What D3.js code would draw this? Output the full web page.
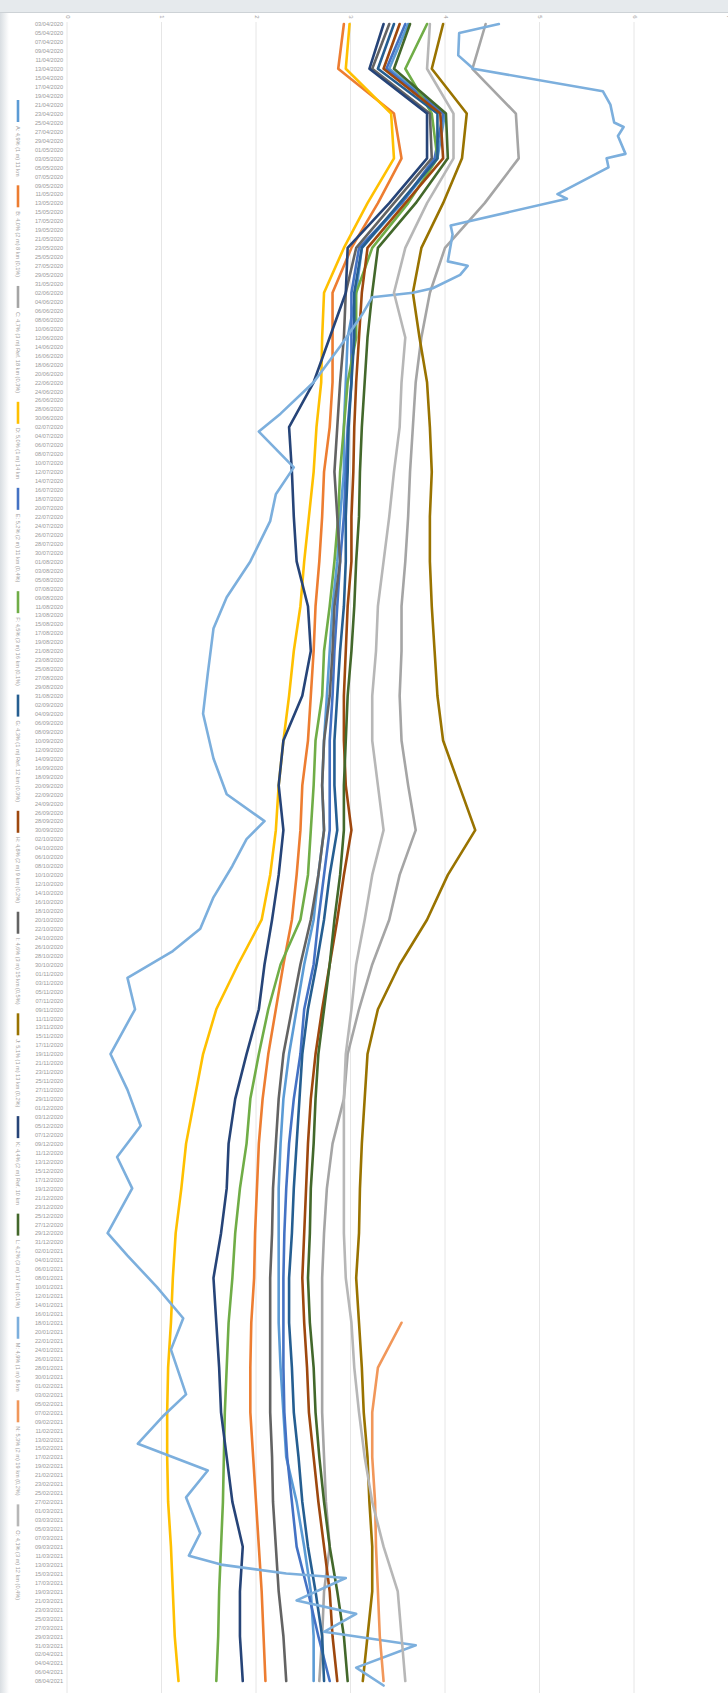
<!DOCTYPE html>
<html>
<head>
<meta charset="utf-8">
<script src="https://cdn.jsdelivr.net/npm/d3@7"></script>
<style>
  body { margin: 0; background: #fff; }
  svg { display: block; font-family: "Liberation Sans", Arial, sans-serif; }
</style>
</head>
<body>
<script>
var sampleDates = ["03/04/2020","13/04/2020","23/04/2020","03/05/2020","13/05/2020","23/05/2020","02/06/2020","12/06/2020","22/06/2020","02/07/2020",
  "12/07/2020","22/07/2020","01/08/2020","11/08/2020","21/08/2020","31/08/2020","10/09/2020","20/09/2020","30/09/2020","10/10/2020",
  "20/10/2020","30/10/2020","09/11/2020","19/11/2020","29/11/2020","09/12/2020","19/12/2020","29/12/2020","08/01/2021","18/01/2021",
  "28/01/2021","07/02/2021","17/02/2021","27/02/2021","09/03/2021","19/03/2021","29/03/2021","08/04/2021"];

var valueTicks = [0, 1, 2, 3, 4, 5, 6, 7];

var seriesNames = [
  "A: 4,9% (1 m) 11 km",
  "B: 4,0% (2 m) 8 km (0,1%)",
  "C: 4,7% (3 m) Ref. 18 km (0,3%)",
  "D: 5,0% (1 m) 14 km",
  "E: 5,2% (2 m) 11 km (0,4%)",
  "F: 4,5% (3 m) 16 km (0,1%)",
  "G: 4,3% (1 m) Ref. 12 km (0,3%)",
  "H: 4,8% (2 m) 9 km (0,2%)",
  "I: 4,6% (3 m) 15 km (0,5%)",
  "J: 5,1% (1 m) 13 km (0,2%)",
  "K: 4,4% (2 m) Ref. 10 km",
  "L: 4,2% (3 m) 17 km (0,1%)",
  "M: 4,9% (1 m) 8 km",
  "N: 5,3% (2 m) 19 km (0,2%)",
  "O: 4,1% (3 m) 12 km (0,4%)"
];

var seriesColors = ["#5B9BD5","#ED7D31","#A5A5A5","#FFC000","#4472C4","#70AD47","#255E91","#9E480E",
  "#636363","#997300","#264478","#43682B","#7CAFDD","#F1975A","#B7B7B7"];

var s01 = [3.61,3.41,4.00,3.92,3.54,3.12,3.06,2.97,2.95,2.93,2.93,2.89,2.86,2.81,2.78,2.75,2.72,2.70,2.72,2.66,2.61,2.51,2.43,2.35,2.29,2.26,2.24,2.24,2.24,2.24,2.26,2.29,2.32,2.43,2.51,2.58,2.61,2.61];
var s02 = [2.93,2.87,3.46,3.54,3.29,3.01,2.81,2.81,2.81,2.78,2.72,2.70,2.67,2.63,2.61,2.58,2.55,2.49,2.47,2.43,2.38,2.29,2.21,2.13,2.07,2.03,2.01,1.99,1.98,1.95,1.94,1.94,1.97,2.00,2.03,2.06,2.08,2.10];
var s03 = [4.43,4.29,4.75,4.78,4.42,4.00,3.84,3.75,3.69,3.66,3.63,3.61,3.58,3.54,3.54,3.52,3.54,3.61,3.69,3.52,3.41,3.23,3.09,2.97,2.93,2.81,2.75,2.72,2.70,2.70,2.70,2.70,2.72,2.74,2.78,2.72,2.70,2.67];
var s04 = [2.99,2.95,3.43,3.46,3.18,2.93,2.72,2.70,2.69,2.64,2.61,2.56,2.51,2.47,2.40,2.35,2.29,2.24,2.21,2.15,2.06,1.81,1.58,1.44,1.35,1.26,1.21,1.15,1.12,1.10,1.07,1.06,1.06,1.07,1.10,1.12,1.14,1.18];
var s05 = [3.58,3.38,3.98,3.89,3.54,3.09,3.01,3.01,3.01,2.97,2.95,2.93,2.89,2.86,2.83,2.81,2.78,2.78,2.78,2.72,2.66,2.61,2.51,2.47,2.40,2.35,2.32,2.30,2.29,2.29,2.29,2.30,2.33,2.38,2.43,2.55,2.66,2.78];
var s06 = [3.81,3.58,3.86,3.92,3.61,3.23,3.06,3.06,2.97,2.93,2.89,2.87,2.83,2.78,2.72,2.70,2.63,2.61,2.58,2.55,2.47,2.26,2.13,2.03,1.94,1.90,1.83,1.78,1.75,1.71,1.69,1.67,1.66,1.65,1.63,1.61,1.60,1.58];
var s07 = [3.46,3.29,3.92,3.92,3.52,3.12,3.04,3.04,3.01,2.98,2.97,2.95,2.95,2.93,2.89,2.86,2.83,2.83,2.86,2.78,2.72,2.64,2.55,2.49,2.46,2.43,2.40,2.38,2.35,2.35,2.38,2.40,2.45,2.49,2.55,2.63,2.70,2.72];
var s08 = [3.52,3.35,3.95,3.98,3.58,3.18,3.12,3.09,3.06,3.04,3.03,3.01,3.01,2.97,2.95,2.93,2.93,2.95,3.01,2.93,2.86,2.78,2.70,2.63,2.58,2.55,2.53,2.51,2.49,2.51,2.54,2.56,2.61,2.66,2.72,2.78,2.81,2.86];
var s09 = [3.41,3.23,3.84,3.86,3.46,3.06,2.95,2.93,2.89,2.86,2.83,2.86,2.89,2.83,2.81,2.78,2.72,2.70,2.72,2.66,2.58,2.47,2.38,2.29,2.24,2.21,2.18,2.17,2.15,2.15,2.15,2.15,2.17,2.18,2.21,2.24,2.29,2.32];
var s10 = [3.98,3.86,4.23,4.18,3.98,3.75,3.66,3.73,3.81,3.84,3.86,3.84,3.84,3.86,3.89,3.92,3.98,4.15,4.32,4.03,3.81,3.52,3.29,3.18,3.15,3.12,3.10,3.09,3.06,3.09,3.12,3.14,3.18,3.20,3.23,3.23,3.18,3.13];
var s11 = [3.35,3.20,3.81,3.81,3.41,2.97,2.95,2.78,2.61,2.35,2.38,2.40,2.43,2.55,2.58,2.49,2.29,2.24,2.29,2.24,2.17,2.09,2.03,1.90,1.78,1.71,1.69,1.63,1.55,1.58,1.61,1.63,1.69,1.75,1.86,1.83,1.83,1.86];
var s12 = [3.63,3.46,4.01,4.03,3.69,3.29,3.23,3.18,3.15,3.12,3.10,3.09,3.06,3.04,3.01,2.97,2.95,2.93,2.93,2.89,2.83,2.78,2.72,2.66,2.63,2.61,2.58,2.57,2.55,2.57,2.61,2.63,2.67,2.72,2.78,2.86,2.93,2.97];
var s14 = [null,null,null,null,null,null,null,null,null,null,null,null,null,null,null,null,null,null,null,null,
  null,null,null,null,null,null,null,null,null,3.54,3.29,3.23,3.23,3.26,3.27,3.29,3.31,3.35];
var s15 = [3.84,3.81,4.09,4.09,3.81,3.58,3.46,3.58,3.54,3.52,3.46,3.41,3.35,3.29,3.27,3.23,3.23,3.29,3.35,3.23,3.15,3.06,3.01,2.95,2.93,2.93,2.93,2.93,2.95,3.01,3.04,3.09,3.15,3.23,3.35,3.50,3.54,3.58];

// series 13 is a noisy one, read at its own turning points
var s13Dates = ["03/04/2020","05/04/2020","10/04/2020","13/04/2020","18/04/2020","21/04/2020","25/04/2020","26/04/2020","28/04/2020","02/05/2020",
  "03/05/2020","05/05/2020","11/05/2020","12/05/2020","18/05/2020","20/05/2020","26/05/2020","27/05/2020","29/05/2020","01/06/2020",
  "02/06/2020","03/06/2020","07/06/2020","14/06/2020","22/06/2020","29/06/2020","03/07/2020","11/07/2020","17/07/2020","23/07/2020",
  "01/08/2020","09/08/2020","16/08/2020","26/08/2020","04/09/2020","14/09/2020","22/09/2020","28/09/2020","02/10/2020","08/10/2020",
  "15/10/2020","22/10/2020","27/10/2020","02/11/2020","09/11/2020","19/11/2020","27/11/2020","05/12/2020","12/12/2020","19/12/2020",
  "29/12/2020","03/01/2021","10/01/2021","17/01/2021","24/01/2021","03/02/2021","08/02/2021","14/02/2021","20/02/2021","26/02/2021",
  "06/03/2021","11/03/2021","13/03/2021","15/03/2021","16/03/2021","21/03/2021","24/03/2021","28/03/2021","31/03/2021","05/04/2021","09/04/2021"];
var s13 = [4.57,4.15,4.14,4.30,5.67,5.75,5.79,5.89,5.83,5.91,5.71,5.73,5.19,5.29,4.06,4.08,4.03,4.24,4.16,3.87,
  3.66,3.23,3.12,2.89,2.61,2.26,2.03,2.40,2.21,2.15,1.94,1.69,1.55,1.49,1.44,1.55,1.69,2.09,1.90,1.75,
  1.55,1.41,1.12,0.64,0.72,0.46,0.64,0.78,0.53,0.69,0.43,0.64,0.95,1.23,1.10,1.26,1.01,0.75,1.49,1.26,
  1.41,1.29,1.63,2.32,2.95,2.43,3.06,2.72,3.69,3.06,3.35];

var parseDate = d3.timeParse("%d/%m/%Y");
var formatDate = d3.timeFormat("%d/%m/%Y");

var seriesValues = [s01, s02, s03, s04, s05, s06, s07, s08, s09, s10, s11, s12, s13, s14, s15];
var series = seriesValues.map(function(vals, i) {
  var dates = (i === 12) ? s13Dates : sampleDates;
  return {
    name: seriesNames[i],
    color: seriesColors[i],
    points: vals.map(function(v, j) { return {date: parseDate(dates[j]), value: v}; })
  };
});

var W = 728, H = 1693;

var svg = d3.select("body").append("svg")
  .attr("width", W)
  .attr("height", H);

// screenshot frame: grey band on top and a faint shadow on the left
var defs = svg.append("defs");
var grad = defs.append("linearGradient").attr("id", "leftShade").attr("x1", 0).attr("x2", 1);
grad.append("stop").attr("offset", 0).attr("stop-color", "#d9dee2");
grad.append("stop").attr("offset", 1).attr("stop-color", "#ffffff");

svg.append("rect").attr("width", W).attr("height", H).attr("fill", "#fff");
svg.append("rect").attr("x", 0).attr("y", 0).attr("width", W).attr("height", 12).attr("fill", "#e6eaed");
svg.append("line").attr("x1", 0).attr("x2", W).attr("y1", 12.5).attr("y2", 12.5)
  .attr("stroke", "#cdd2d6").attr("stroke-width", 1);
svg.append("rect").attr("x", 0).attr("y", 13).attr("width", 9).attr("height", H - 13)
  .attr("fill", "url(#leftShade)");

// scales: values run left to right, dates top to bottom
var x = d3.scaleLinear().domain([0, 7]).range([67, 728.5]);
var startDate = parseDate("03/04/2020"), endDate = parseDate("10/04/2021");
var y = d3.scaleTime().domain([startDate, endDate]).range([24, 1690]);

// gridlines
svg.append("g")
  .selectAll("line")
  .data(valueTicks)
  .enter()
  .append("line")
  .attr("x1", function(d) { return x(d); })
  .attr("x2", function(d) { return x(d); })
  .attr("y1", 22)
  .attr("y2", H)
  .attr("stroke", "#e6e6e6")
  .attr("stroke-width", 1);

// value axis labels along the top, turned with the chart (last one is cut by the edge, as in the picture)
var xAxis = d3.axisTop(x).tickValues(valueTicks).tickSize(0).tickFormat(d3.format("d"));
var gx = svg.append("g").attr("transform", "translate(0,17)").call(xAxis);
gx.select(".domain").remove();
gx.selectAll("text")
  .attr("x", 0)
  .attr("y", 0)
  .attr("dy", "0.32em")
  .attr("transform", "rotate(90)")
  .attr("text-anchor", "middle")
  .attr("fill", "#9a9a9a")
  .style("font-size", "6px");

// date axis, every second day
var yAxis = d3.axisLeft(y)
  .tickValues(d3.timeDay.range(startDate, endDate, 2))
  .tickSize(0)
  .tickPadding(0)
  .tickFormat(formatDate);
var gy = svg.append("g").attr("transform", "translate(63,0)").call(yAxis);
gy.select(".domain").remove();
gy.selectAll("text")
  .attr("fill", "#9a9a9a")
  .style("font-size", "5.6px");

// lines
var line = d3.line()
  .defined(function(d) { return d.value !== null; })
  .x(function(d) { return x(d.value); })
  .y(function(d) { return y(d.date); });

svg.append("g")
  .selectAll("path")
  .data(series)
  .enter()
  .append("path")
  .attr("d", function(d) { return line(d.points); })
  .attr("fill", "none")
  .attr("stroke", function(d) { return d.color; })
  .attr("stroke-width", 2.6)
  .attr("stroke-linejoin", "round")
  .attr("stroke-linecap", "round");

// legend down the left edge, spread between y=100 and y=1600
var legend = svg.append("g");
var items = legend.selectAll("g")
  .data(series)
  .enter()
  .append("g");

items.append("line")
  .attr("x1", 0).attr("x2", 0)
  .attr("y1", 0).attr("y2", 22)
  .attr("stroke", function(d) { return d.color; })
  .attr("stroke-width", 2.6);

items.append("text")
  .attr("transform", "translate(0,26) rotate(90)")
  .attr("dy", "0.32em")
  .attr("fill", "#a0a0a0")
  .style("font-size", "5.6px")
  .text(function(d) { return d.name; });

var lens = [];
items.each(function() {
  lens.push(26 + d3.select(this).select("text").node().getComputedTextLength());
});
var legTop = 100, legBottom = 1600;
var gap = Math.max(4, (legBottom - legTop - d3.sum(lens)) / (lens.length - 1));
var pos = legTop;
items.each(function(d, i) {
  d3.select(this).attr("transform", "translate(18," + pos + ")");
  pos += lens[i] + gap;
});
</script>
</body>
</html>
